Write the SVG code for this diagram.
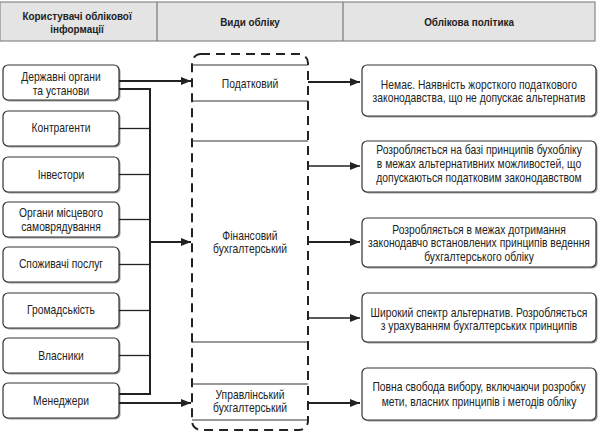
<svg xmlns="http://www.w3.org/2000/svg" width="600" height="432" viewBox="0 0 600 432">
<defs>
<style>
text{font-family:"Liberation Sans",Arial,sans-serif;font-size:12px;fill:#222;text-anchor:middle;transform-box:fill-box;transform-origin:center;transform:scaleX(0.86)}
.h{font-weight:bold;font-size:11.5px}
.box{fill:#fff;stroke:#333;stroke-width:1.2}
.sh{fill:#9a9a9a}
.ln{stroke:#222;fill:none;stroke-width:2}
.tl{stroke:#222;fill:none;stroke-width:1.3}
.sec{stroke:#333;stroke-width:1.2}
</style>
<marker id="ar" viewBox="0 0 10 8" refX="10" refY="4" markerWidth="10" markerHeight="8" markerUnits="userSpaceOnUse" orient="auto">
<path d="M0,0 L10,4 L0,8 Z" fill="#222"/>
</marker>
</defs>
<g id="header">
<rect x="0" y="2" width="595" height="39" fill="#e4e4e4" stroke="#888" stroke-width="1.2"/>
<line x1="157" y1="2" x2="157" y2="41" stroke="#777" stroke-width="1.2"/>
<line x1="343" y1="2" x2="343" y2="41" stroke="#777" stroke-width="1.2"/>
<text class="h" x="77" y="20">Користувачі облікової</text>
<text class="h" x="77" y="33">інформації</text>
<text class="h" x="250" y="26">Види обліку</text>
<text class="h" x="469" y="26">Облікова політика</text>
</g>
<g id="users">
<g id="u1"><rect class="sh" x="4.5" y="66.5" width="116" height="35" rx="5"/><rect class="box" x="3" y="65" width="116" height="35" rx="5"/><text x="61" y="81">Державні органи</text><text x="61" y="95">та установи</text></g>
<g id="u2"><rect class="sh" x="4.5" y="112.5" width="116" height="35" rx="5"/><rect class="box" x="3" y="111" width="116" height="35" rx="5"/><text x="61" y="132">Контрагенти</text></g>
<g id="u3"><rect class="sh" x="4.5" y="158.5" width="116" height="35" rx="5"/><rect class="box" x="3" y="157" width="116" height="35" rx="5"/><text x="61" y="179">Інвестори</text></g>
<g id="u4"><rect class="sh" x="4.5" y="203.5" width="116" height="35" rx="5"/><rect class="box" x="3" y="202" width="116" height="35" rx="5"/><text x="61" y="217">Органи місцевого</text><text x="61" y="231">самоврядування</text></g>
<g id="u5"><rect class="sh" x="4.5" y="248.5" width="116" height="35" rx="5"/><rect class="box" x="3" y="247" width="116" height="35" rx="5"/><text x="61" y="268">Споживачі послуг</text></g>
<g id="u6"><rect class="sh" x="4.5" y="294.5" width="116" height="35" rx="5"/><rect class="box" x="3" y="293" width="116" height="35" rx="5"/><text x="61" y="314">Громадськість</text></g>
<g id="u7"><rect class="sh" x="4.5" y="339.5" width="116" height="35" rx="5"/><rect class="box" x="3" y="338" width="116" height="35" rx="5"/><text x="61" y="360">Власники</text></g>
<g id="u8"><rect class="sh" x="4.5" y="384.5" width="116" height="35" rx="5"/><rect class="box" x="3" y="383" width="116" height="35" rx="5"/><text x="61" y="405">Менеджери</text></g>
</g>
<g id="types">
<rect x="192" y="54" width="116" height="376" rx="9" fill="none" stroke="#222" stroke-width="2" stroke-dasharray="9 6"/>
<g id="t1"><line class="sec" x1="192" y1="65" x2="308" y2="65"/><line class="sec" x1="192" y1="101" x2="308" y2="101"/><text x="250" y="88">Податковий</text></g>
<g id="t2"><line class="sec" x1="192" y1="141" x2="308" y2="141"/><line class="sec" x1="192" y1="342" x2="308" y2="342"/><text x="250" y="240">Фінансовий</text><text x="250" y="253">бухгалтерський</text></g>
<g id="t3"><line class="sec" x1="192" y1="384" x2="308" y2="384"/><line class="sec" x1="192" y1="420" x2="308" y2="420"/><text x="250" y="399">Управлінський</text><text x="250" y="412">бухгалтерський</text></g>
</g>
<g id="policies">
<g id="p1"><rect class="sh" x="363.5" y="66.5" width="234" height="51" rx="5"/><rect class="box" x="362" y="65" width="234" height="51" rx="5"/><text x="479" y="89">Немає. Наявність жорсткого податкового</text><text x="479" y="102">законодавства, що не допускає альтернатив</text></g>
<g id="p2"><rect class="sh" x="363.5" y="142.5" width="234" height="51" rx="5"/><rect class="box" x="362" y="141" width="234" height="51" rx="5"/><text x="479" y="154">Розробляється на базі принципів бухобліку</text><text x="479" y="168">в межах альтернативних можливостей, що</text><text x="479" y="182">допускаються податковим законодавством</text></g>
<g id="p3"><rect class="sh" x="363.5" y="219.5" width="234" height="49" rx="5"/><rect class="box" x="362" y="218" width="234" height="49" rx="5"/><text x="479" y="234">Розробляється в межах дотримання</text><text x="479" y="247.5">законодавчо встановлених принципів ведення</text><text x="479" y="261">бухгалтерського обліку</text></g>
<g id="p4"><rect class="sh" x="363.5" y="294.5" width="234" height="49" rx="5"/><rect class="box" x="362" y="293" width="234" height="49" rx="5"/><text x="479" y="317">Широкий спектр альтернатив. Розробляється</text><text x="479" y="330">з урахуванням бухгалтерських принципів</text></g>
<g id="p5"><rect class="sh" x="363.5" y="369.5" width="234" height="52" rx="5"/><rect class="box" x="362" y="368" width="234" height="52" rx="5"/><text x="479" y="391">Повна свобода вибору, включаючи розробку</text><text x="479" y="406">мети, власних принципів і методів обліку</text></g>
</g>
<g id="connectors">
<line class="ln" x1="119" y1="81" x2="191" y2="81" marker-end="url(#ar)"/>
<polyline class="ln" points="119,89 150,89 150,394 119,394"/>
<line class="tl" x1="119" y1="128.5" x2="150" y2="128.5"/>
<line class="tl" x1="119" y1="174.5" x2="150" y2="174.5"/>
<line class="tl" x1="119" y1="219.5" x2="150" y2="219.5"/>
<line class="tl" x1="119" y1="264.5" x2="150" y2="264.5"/>
<line class="tl" x1="119" y1="310.5" x2="150" y2="310.5"/>
<line class="tl" x1="119" y1="355.5" x2="150" y2="355.5"/>
<line class="ln" x1="150" y1="242" x2="191" y2="242" marker-end="url(#ar)"/>
<line class="ln" x1="119" y1="403" x2="191" y2="403" marker-end="url(#ar)"/>
<line class="ln" x1="308" y1="82" x2="360" y2="82" marker-end="url(#ar)"/>
<line class="tl" x1="308" y1="166" x2="360" y2="166" marker-end="url(#ar)"/>
<line class="ln" x1="308" y1="242" x2="360" y2="242" marker-end="url(#ar)"/>
<line class="tl" x1="308" y1="318" x2="360" y2="318" marker-end="url(#ar)"/>
<line class="ln" x1="308" y1="403" x2="360" y2="403" marker-end="url(#ar)"/>
</g>
</svg>
